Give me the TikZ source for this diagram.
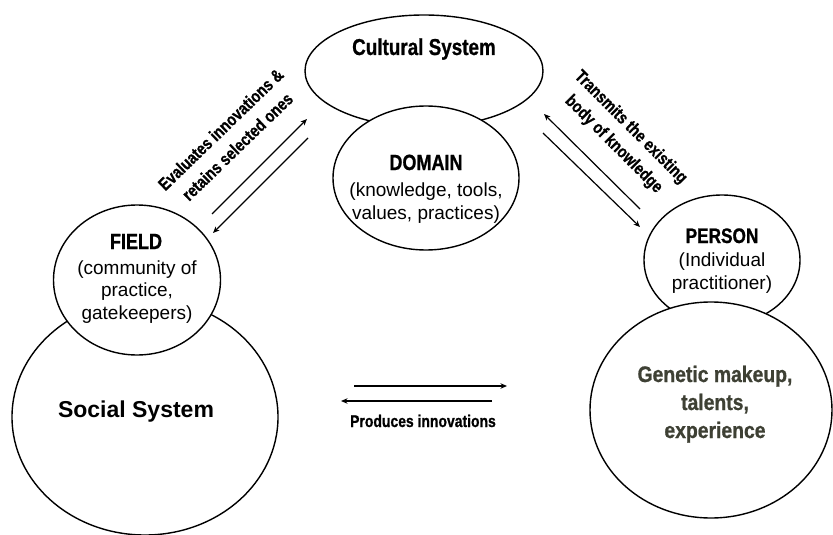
\documentclass[tikz,border=0pt]{standalone}
\usepackage{fontspec}
\setmainfont{Liberation Sans}
\newfontfamily\condfont[FakeStretch=0.82,FakeBold=0.8]{Liberation Sans}
\newfontfamily\widecondfont[FakeStretch=0.86,FakeBold=0.8]{Liberation Sans}
\usetikzlibrary{shapes.geometric,arrows.meta}
\definecolor{olivetext}{RGB}{62,64,52}
\tikzset{
  sphere/.style={ellipse, draw=black, line width=1.4pt, fill=white, inner sep=0pt},
  flow/.style={line width=1.2pt, -{Stealth[length=6.5pt,width=5.5pt]}},
  title/.style={font=\condfont\bfseries\fontsize{22}{26}\selectfont, anchor=base},
  body/.style={font=\fontsize{19}{22.5}\selectfont, align=center, anchor=base},
  edgelabel/.style={font=\condfont\bfseries\fontsize{17.5}{24}\selectfont, align=center}
}
\begin{document}
\begin{tikzpicture}[x=1pt,y=-1pt]
\useasboundingbox (0,0) rectangle (833,535);

% cultural system and domain
\node[sphere, minimum width=238pt, minimum height=112pt] (culture) at (424,71) {};
\node[sphere, minimum width=186pt, minimum height=144pt] (domain) at (426,178) {};

% social system and field
\node[sphere, minimum width=266pt, minimum height=236pt] (social) at (145,417) {};
\node[sphere, minimum width=167pt, minimum height=150pt] (field) at (137,280) {};

% person and its background
\node[sphere, minimum width=156pt, minimum height=130pt] (person) at (722,260) {};
\node[sphere, minimum width=242pt, minimum height=216pt] (genetic) at (711,410) {};

% texts (multi-line nodes sit on the baseline of their last line)
\node[title, font=\condfont\bfseries\fontsize{23}{26}\selectfont] (cultureT) at (424,55) {Cultural System};
\node[title] (domainT) at (426,170) {DOMAIN};
\node[body] (domainB) at (426,219) {(knowledge, tools,\\values, practices)};
\node[title] (fieldT) at (136,249) {FIELD};
\node[body] (fieldB) at (137,319) {(community of\\practice,\\gatekeepers)};
\node[anchor=base, font=\bfseries\fontsize{23}{26}\selectfont] (socialT) at (136,417) {Social System};
\node[title, font=\condfont\bfseries\fontsize{21}{26}\selectfont] (personT) at (722,243) {PERSON};
\node[body] (personB) at (722,289) {(Individual\\practitioner)};
\node[title, align=center, text=olivetext, font=\widecondfont\bfseries\fontsize{22.5}{28}\selectfont] (geneticT) at (715,438) {Genetic makeup,\\talents,\\experience};

% arrow end points
\coordinate (l1a) at (212,214); \coordinate (l1b) at (307,119);
\coordinate (l2a) at (308,138); \coordinate (l2b) at (213,233);
\coordinate (r1a) at (640,209); \coordinate (r1b) at (544,114);
\coordinate (r2a) at (543,133); \coordinate (r2b) at (640,227);
\coordinate (b1a) at (354,386); \coordinate (b1b) at (507,386);
\coordinate (b2a) at (492,401); \coordinate (b2b) at (341,401);

\draw[flow] (l1a) -- (l1b);
\draw[flow] (l2a) -- (l2b);
\draw[flow] (r1a) -- (r1b);
\draw[flow] (r2a) -- (r2b);
\draw[flow] (b1a) -- (b1b);
\draw[flow] (b2a) -- (b2b);

% connector labels
\node[edgelabel, rotate=44] (evalL) at (229,138) {Evaluates innovations \&\\retains selected ones};
\node[edgelabel, rotate=-45] (transL) at (622,136) {Transmits the existing\\body of knowledge};
\node[edgelabel, font=\condfont\bfseries\fontsize{17}{20}\selectfont, anchor=base] (prodL) at (423,427) {Produces innovations};
\end{tikzpicture}
\end{document}
